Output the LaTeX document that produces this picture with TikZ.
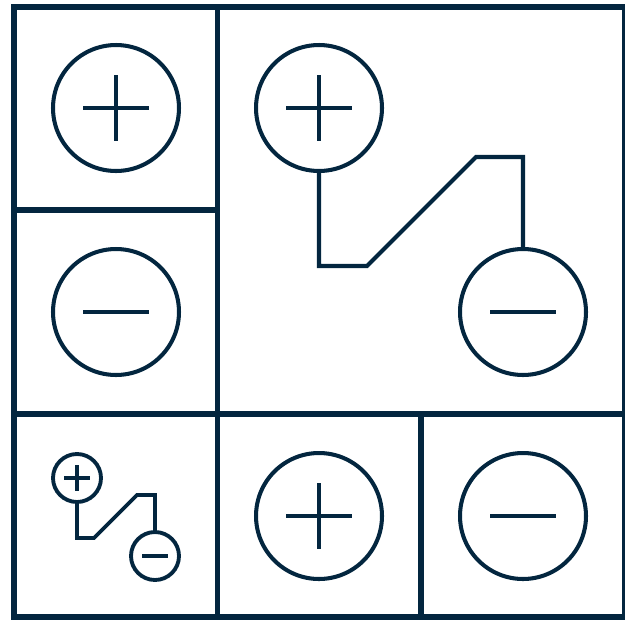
\documentclass[tikz,border=0pt]{standalone}
\usepackage{tikz}
\usetikzlibrary{positioning,calc}
\definecolor{Navy}{HTML}{03263F}

\begin{document}
\begin{tikzpicture}[x=0.02cm,y=-0.02cm,
big/.style={circle,draw=Navy,line width=2.3pt,minimum size=2.52cm,inner sep=0pt},
small/.style={circle,draw=Navy,line width=2.2pt,minimum size=0.96cm,inner sep=0pt},
grid/.style={draw=Navy,line width=3pt},
sign/.style={draw=Navy,line width=2.4pt},
wire/.style={draw=Navy,line width=2.3pt,line join=miter}]
\useasboundingbox (0,0) rectangle (625,619);
% panels
\draw[grid] (14,7) rectangle (624.5,617);
\draw[grid] (217.5,7) -- (217.5,617);
\draw[grid] (14,210) -- (217.5,210);
\draw[grid] (14,414) -- (624.5,414);
\draw[grid] (421,414) -- (421,617);
% single terminals
\node[big] (p1) at (116,108) {};
\node[big] (m1) at (116,312) {};
\node[big] (p3) at (319,516) {};
\node[big] (m3) at (523,516) {};
% large battery
\node[big] (p2) at (319,108) {};
\node[big] (m2) at (523,312) {};
\coordinate (k1) at (367,266);
\coordinate (k2) at (476,157);
\draw[wire] (p2.south) |- (k1) -- (k2) -| (m2.north);
% small battery
\node[small] (p4) at (77,478) {};
\node[small] (m4) at (155,556) {};
\coordinate (j1) at (94,538);
\coordinate (j2) at (137,495);
\draw[wire,line width=2.2pt] (p4.south) |- (j1) -- (j2) -| (m4.north);
% signs
\foreach \n in {p1,p2,p3}{
  \draw[sign] (\n.center) ++(-33,0) -- ++(66,0);
  \draw[sign] (\n.center) ++(0,-33) -- ++(0,66);
}
\foreach \n in {m1,m2,m3}
  \draw[sign,line width=2.8pt] (\n.center) ++(-33,0) -- ++(66,0);
\draw[sign,line width=2.8pt] (p4.center) ++(-13,0) -- ++(26,0);
\draw[sign,line width=2.8pt] (p4.center) ++(0,-13) -- ++(0,26);
\draw[sign,line width=2.8pt] (m4.center) ++(-13,0) -- ++(26,0);
\end{tikzpicture}
\end{document}
